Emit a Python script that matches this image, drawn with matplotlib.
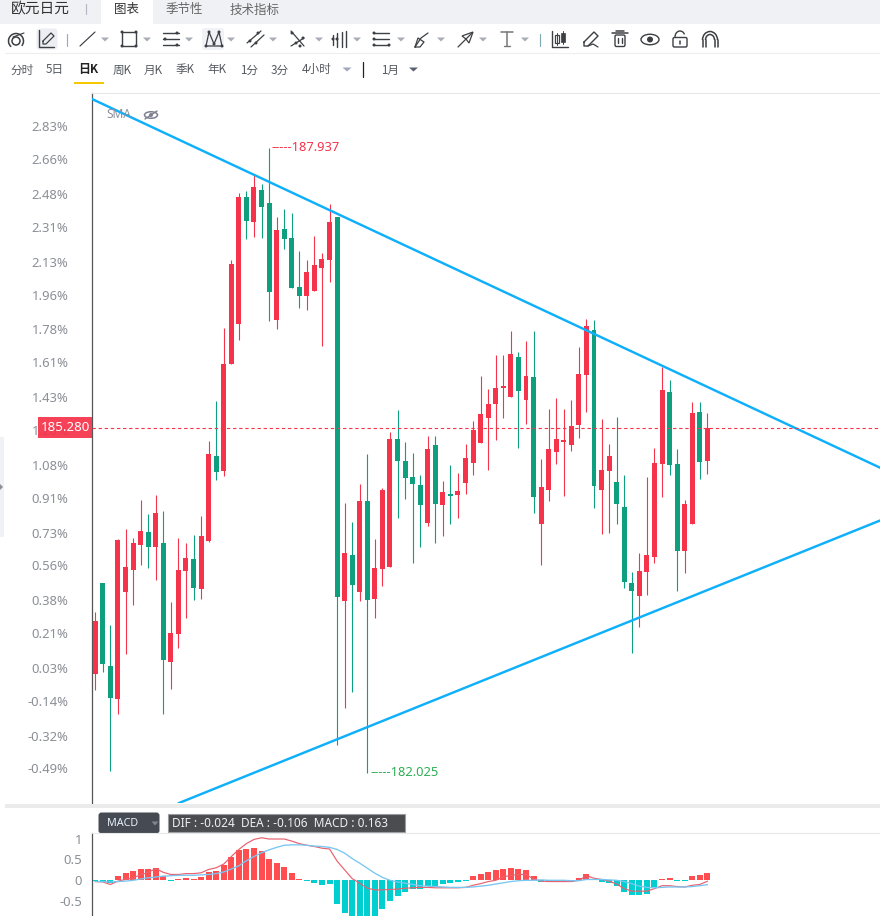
import numpy as np
import matplotlib
matplotlib.use("Agg")
import matplotlib.pyplot as plt
from matplotlib.patches import Rectangle, FancyBboxPatch, Circle, Polygon, Ellipse, Arc

plt.rcParams['font.family'] = ['Noto Sans', 'Noto Sans CJK SC', 'DejaVu Sans']

# Daily EUR/JPY candles
opens = [182.960,183.818,183.033,182.723,183.735,183.944,184.180,184.300,184.161,184.196,183.073,183.338,183.934,184.045,183.764,184.218,185.019,184.880,185.892,186.271,187.469,187.236,187.536,187.413,186.309,187.167,187.082,186.618,186.536,186.583,186.801,186.876,187.280,183.650,184.083,183.735,184.594,183.669,183.953,183.972,185.180,184.972,184.821,184.745,184.388,185.123,184.559,184.660,184.653,184.767,184.956,185.145,185.382,185.514,185.665,185.580,185.956,185.552,185.767,184.379,184.700,185.060,185.155,185.126,185.315,185.788,186.211,184.700,184.880,184.773,184.537,183.818,183.698,183.925,184.067,184.946,185.625,184.944,184.123,184.379,185.435,184.975]
highs = [183.543,183.818,183.421,184.234,184.329,184.244,184.603,184.471,184.650,184.499,183.638,184.244,184.196,184.272,184.452,185.161,185.540,186.230,186.873,187.507,187.526,187.677,187.592,187.937,187.280,187.356,187.318,186.959,186.873,187.100,186.940,187.403,187.280,184.575,184.395,184.754,185.038,184.234,184.717,185.246,185.454,185.152,185.048,184.839,185.208,185.208,184.783,184.934,184.858,185.133,185.350,185.776,185.653,185.975,185.975,186.202,186.003,186.107,186.202,184.991,185.464,185.568,185.464,185.549,186.050,186.315,186.306,185.369,185.133,185.388,184.839,183.922,184.102,184.821,185.095,185.861,185.738,185.085,184.603,185.530,185.530,185.426]
lows = [182.809,182.979,182.042,182.581,183.149,183.613,183.991,183.963,183.849,182.581,182.818,183.206,183.490,183.660,183.669,184.208,184.795,184.833,185.892,186.119,187.075,187.094,187.084,186.299,186.223,186.980,186.611,186.422,186.403,186.583,186.063,186.668,182.288,182.638,182.790,183.650,182.025,183.490,183.792,183.972,184.436,184.615,184.010,184.161,184.360,184.199,184.265,184.379,184.436,184.663,184.842,185.145,184.890,185.173,185.382,185.580,185.098,185.325,184.483,183.991,184.596,184.946,184.644,185.069,185.192,185.438,184.530,184.284,184.294,184.379,183.773,183.158,183.404,183.707,184.010,184.634,184.842,183.745,183.915,184.379,184.804,184.852]
closes = [183.458,183.054,182.733,184.225,183.969,184.196,184.310,184.161,184.480,183.092,183.345,183.941,184.054,183.773,184.262,185.038,184.871,185.890,186.836,187.469,187.245,187.564,187.378,186.573,187.157,187.075,186.611,186.536,186.760,186.826,186.883,187.233,183.688,184.102,183.802,184.594,183.660,183.960,184.698,185.180,184.975,184.814,184.757,184.559,185.085,184.568,184.679,184.644,184.688,185.000,185.265,185.417,185.511,185.663,185.681,185.984,185.637,185.776,184.634,184.726,185.085,185.180,185.171,185.303,185.795,186.249,184.738,184.887,185.019,184.568,183.830,183.745,183.931,184.083,184.953,185.644,184.937,184.123,184.565,185.426,184.965,185.280]

# Hand-drawn triangle boundaries as (bar index, price) endpoints
upper_trend_x = [-0.437, 103.85]
upper_trend_y = [188.396, 184.909]
lower_trend_x = [11.08, 103.85]
lower_trend_y = [181.737, 184.409]

# Percentage scale shown beside the price axis
pct_base = 182.96
pct_labels = [2.83,2.66,2.48,2.31,2.13,1.96,1.78,1.61,1.43,1.26,1.08,0.91,0.73,0.56,0.38,0.21,0.03,-0.14,-0.32,-0.49]

# MACD study
macd_hist = [-0.02,-0.03,-0.07,0.10,0.18,0.22,0.27,0.27,0.30,0.11,-0.01,0.02,0.05,0.03,0.08,0.20,0.22,0.37,0.56,0.73,0.75,0.78,0.70,0.51,0.42,0.32,0.18,0.02,-0.02,-0.07,-0.11,-0.10,-0.57,-0.79,-0.92,-0.95,-0.92,-0.90,-0.70,-0.50,-0.38,-0.27,-0.22,-0.22,-0.13,-0.13,-0.10,-0.06,-0.03,-0.01,0.10,0.15,0.20,0.25,0.27,0.30,0.27,0.25,0.10,-0.04,-0.05,-0.05,-0.05,-0.03,0.06,0.15,0.04,-0.05,-0.07,-0.14,-0.27,-0.35,-0.36,-0.32,-0.17,0.02,0.05,-0.02,-0.02,0.10,0.13,0.163]
dif = [-0.03,-0.04,-0.10,-0.02,0.02,0.06,0.13,0.19,0.28,0.19,0.14,0.14,0.16,0.16,0.18,0.26,0.30,0.39,0.57,0.74,0.88,0.98,1.02,0.99,0.99,0.99,0.94,0.88,0.84,0.81,0.77,0.75,0.46,0.25,0.04,-0.07,-0.19,-0.23,-0.23,-0.22,-0.21,-0.19,-0.18,-0.17,-0.17,-0.18,-0.18,-0.18,-0.18,-0.17,-0.12,-0.08,-0.03,0.00,0.08,0.12,0.14,0.14,0.03,-0.02,-0.03,-0.03,-0.03,-0.03,0.00,0.11,0.05,0.02,-0.02,-0.09,-0.20,-0.26,-0.26,-0.26,-0.20,-0.13,-0.13,-0.15,-0.16,-0.12,-0.10,-0.024]
dea = [-0.03,-0.03,-0.04,-0.03,-0.02,0.00,0.03,0.06,0.08,0.10,0.11,0.12,0.12,0.12,0.13,0.14,0.16,0.20,0.27,0.35,0.47,0.57,0.66,0.73,0.79,0.84,0.85,0.85,0.84,0.82,0.81,0.79,0.74,0.65,0.52,0.41,0.29,0.17,0.07,0.00,-0.04,-0.07,-0.10,-0.13,-0.14,-0.15,-0.16,-0.17,-0.17,-0.17,-0.16,-0.14,-0.12,-0.09,-0.06,-0.03,-0.01,0.00,0.00,0.01,0.00,0.00,0.00,-0.01,-0.01,0.02,0.02,0.02,0.01,0.00,-0.03,-0.08,-0.14,-0.17,-0.18,-0.17,-0.16,-0.16,-0.16,-0.15,-0.13,-0.106]
macd_ticks = [1, 0.5, 0, -0.5]
macd_tick_labels = ['1', '0.5', '0', '-0.5']

RED = '#f5334a'
GREEN = '#0e9f7e'
BLUE = '#0fb0fb'
TICK = '#8b8f96'
W, H = 880, 916


def px_axes(l, t, r, b):
    return [l / W, (H - b) / H, (r - l) / W, (b - t) / H]


fig = plt.figure(figsize=(W / 100, H / 100), dpi=100, facecolor='white')

# Candlestick panel
ax = fig.add_axes(px_axes(92, 93, 880, 803), facecolor='none')
ax.set_xlim(-0.437, 103.85)
ax.set_ylim(181.737, 188.453)
x = np.arange(len(opens))
o, hi, lo, c = map(np.array, (opens, highs, lows, closes))
up = c >= o
colours = np.where(up, RED, GREEN)
ax.vlines(x, lo, hi, colors=colours, lw=0.8, zorder=2)
ax.bar(x, np.maximum(np.abs(c - o), 0.012), bottom=np.minimum(o, c), width=0.66,
       color=colours, linewidth=0, zorder=3)
ax.plot(upper_trend_x, upper_trend_y, color=BLUE, lw=1.75, zorder=4)
ax.plot(lower_trend_x, lower_trend_y, color=BLUE, lw=1.75, zorder=4)
ax.axhline(c[-1], color=RED, lw=0.8, ls=(0, (3, 2.5)), zorder=5)

i_hi, i_lo = int(np.argmax(hi)), int(np.argmin(lo))
ax.annotate(f'-----{hi[i_hi]:.3f}', (i_hi, hi[i_hi]), xytext=(2, 0), textcoords='offset points',
            va='center', ha='left', color=RED, fontsize=9.3)
ax.annotate(f'-----{lo[i_lo]:.3f}', (i_lo, lo[i_lo]), xytext=(2, 0), textcoords='offset points',
            va='center', ha='left', color='#2eae55', fontsize=9.3)

ax.set_xticks([])
ax.set_yticks([pct_base * (1 + p / 100) for p in pct_labels])
ax.set_yticklabels([f'{p:.2f}%' for p in pct_labels], color=TICK, fontsize=9.4)
ax.tick_params(axis='y', length=0, pad=17)
for side in ('top', 'right', 'bottom'):
    ax.spines[side].set_visible(False)
ax.spines['left'].set_color('#555555')
ax.spines['left'].set_linewidth(0.9)

# MACD panel
ax2 = fig.add_axes(px_axes(92, 833, 880, 916), facecolor='none')
ax2.set_xlim(-0.437, 103.85)
ax2.set_ylim(-0.856, 1.134)
hist = np.array(macd_hist)
ax2.bar(x, hist, width=0.8, color=np.where(hist >= 0, '#ff4d50', '#00cfd2'), linewidth=0, zorder=2)
ax2.plot(x, dif, color='#e9606e', lw=0.85, zorder=3)
ax2.plot(x, dea, color='#78c6f2', lw=0.95, zorder=3)
ax2.set_xticks([])
ax2.set_yticks(macd_ticks)
ax2.set_yticklabels(macd_tick_labels, color=TICK, fontsize=9.4)
ax2.tick_params(axis='y', length=0, pad=7)
for side in ('top', 'right', 'bottom'):
    ax2.spines[side].set_visible(False)
ax2.spines['left'].set_color('#555555')
ax2.spines['left'].set_linewidth(0.9)

# Application chrome, laid out in screen pixels
ui = fig.add_axes([0, 0, 1, 1], facecolor='none', zorder=10)
ui.set_xlim(0, W)
ui.set_ylim(H, 0)
ui.axis('off')
CJK = ['Noto Sans CJK SC', 'DejaVu Sans']
INK = '#3c3f44'
GREY = '#a9adb8'


def rect(l, t, r, b, fc, **kw):
    ui.add_patch(Rectangle((l, t), r - l, b - t, fc=fc, ec=kw.pop('ec', 'none'), lw=kw.pop('lw', 0), **kw))


def line(xs, ys, color=INK, lw=0.85, **kw):
    ui.plot(xs, ys, color=color, lw=lw, solid_capstyle='round', **kw)


def dot(cx, cy, r=1.5, color=INK):
    ui.add_patch(Circle((cx, cy), r, fc=color, ec='none'))


def caret(cx, cy=39, color=GREY, w=4):
    ui.add_patch(Polygon([(cx - w, cy - 1.5), (cx + w, cy - 1.5), (cx, cy + 2.5)], fc=color, ec='none'))


# Tab strip
rect(0, 0, W, 24, '#f0f1f5')
rect(101, 0, 153, 24, 'white')
ui.text(11, 9.5, '欧元日元', family=CJK, fontsize=10.6, color='#333333', va='center', ha='left')
line([86, 86], [4, 14], color='#b5b9c4')
ui.text(126.5, 10, '图表', family=CJK, fontsize=9, color='#333333', va='center', ha='center')
ui.text(184, 10, '季节性', family=CJK, fontsize=9, color='#666666', va='center', ha='center')
ui.text(255, 10, '技术指标', family=CJK, fontsize=9, color='#666666', va='center', ha='center')

# Row separators
line([5, W], [53, 53], color='#eeeeee', lw=0.8)
line([92, W], [92.5, 92.5], color='#e8e8e8', lw=0.8)

# Drawing tools
ui.add_patch(Arc((16, 41), 15, 15, theta1=130, theta2=400, ec=INK, lw=1.1))
ui.add_patch(Circle((16, 41), 4, fc='none', ec=INK, lw=1.1))
line([13, 24], [37, 33])
ui.add_patch(FancyBboxPatch((38, 30), 18, 18, boxstyle='round,pad=1.5,rounding_size=3', fc='#eceef3', ec='none'))
line([39, 39, 54], [30, 47, 47], lw=1)
line([43, 51, 54, 46, 43, 43], [41, 33, 36, 44, 44, 41], lw=0.9)
line([66.5, 66.5], [34, 46], color='#b79ac8')
line([80, 95], [46, 32])
caret(105)
ui.add_patch(Rectangle((122, 32), 14, 14, fc='none', ec=INK, lw=1))
for px_, py_ in [(122, 32), (136, 32), (122, 46), (136, 46)]:
    dot(px_, py_)
caret(147)
for yy in (33, 39, 45):
    line([163, 179], [yy, yy], lw=1)
dot(177, 33)
dot(165, 39)
dot(177, 45)
caret(189)
ui.add_patch(FancyBboxPatch((204, 30), 18, 18, boxstyle='round,pad=2,rounding_size=3', fc='#f1f2f5', ec='none'))
line([206, 209, 214, 219, 222, 206], [46, 32, 44, 32, 46, 46], lw=0.9)
for px_, py_ in [(206, 46), (209, 32), (214, 44), (219, 32), (222, 46)]:
    dot(px_, py_)
caret(231)
line([247, 261], [43, 31], lw=0.9)
line([251, 264], [47, 35], lw=0.9)
dot(250, 41)
dot(258, 33)
dot(256, 43)
caret(273)
line([291, 304], [31, 46], lw=0.9)
line([291, 304], [46, 38], lw=0.9)
for px_, py_ in [(292, 33), (296, 43), (300, 46), (303, 38)]:
    dot(px_, py_)
caret(319)
for xx, t_, b_ in [(333, 35, 45), (337, 33, 47), (342, 32, 47), (346, 31, 47)]:
    line([xx, xx], [t_, b_], lw=1)
dot(337, 39)
dot(333, 39)
caret(357)
for yy in (33, 39, 45):
    line([374, 389], [yy, yy], lw=1)
dot(374, 33)
dot(374, 39)
dot(374, 45)
dot(389, 45)
caret(401)
line([415, 421, 428], [47, 38, 33], lw=0.9)
line([415, 420, 424, 418, 415], [47, 47, 42, 38, 47], lw=0.9)
caret(441)
line([458, 472], [47, 33], lw=0.9)
ui.add_patch(Polygon([(473, 32), (462, 36), (466, 39), (469, 43)], fc='white', ec=INK, lw=0.9))
caret(483)
line([501, 513], [32, 32], color='#777777', lw=1.1)
line([507, 507], [32, 46], color='#777777', lw=1.1)
line([504, 510], [46, 46], color='#777777', lw=1)
caret(525)
line([539.5, 539.5], [34, 46], color='#7fa9b5')

# Right-hand action icons
line([552, 552, 568], [31, 47, 47], lw=1)
ui.add_patch(Rectangle((555, 35), 4, 8, fc='none', ec=INK, lw=0.9))
ui.add_patch(Rectangle((561, 33), 4, 9, fc=INK, ec=INK, lw=0.5))
line([557, 557], [33, 45], lw=0.7)
line([563, 563], [31, 44], lw=0.7)
line([584, 594, 598, 588, 584, 584], [42, 32, 36, 46, 46, 42], lw=1)
line([588, 593, 598], [46, 44, 47], lw=0.9)
line([612, 628], [33, 33], lw=1.1)
line([616, 624], [30.5, 30.5], lw=1.1)
ui.add_patch(FancyBboxPatch((615, 35), 10, 11.5, boxstyle='round,pad=0,rounding_size=1.5', fc='none', ec=INK, lw=1))
line([618, 618], [38, 43], lw=1)
line([622, 622], [38, 43], lw=1)
ui.add_patch(Ellipse((650, 39.5), 18, 10.5, fc='none', ec=INK, lw=1))
dot(650, 39.5, 3)
ui.add_patch(FancyBboxPatch((673, 37.5), 14, 9.5, boxstyle='round,pad=0,rounding_size=1.5', fc='none', ec=INK, lw=1))
ui.add_patch(Arc((680, 37), 10, 12, theta1=180, theta2=330, ec=INK, lw=1))
line([680, 680], [41, 44], lw=1.1)
ui.add_patch(Arc((710, 40), 15, 17, theta1=180, theta2=360, ec=INK, lw=1.1))
ui.add_patch(Arc((710, 40), 9, 11, theta1=180, theta2=360, ec=INK, lw=1.1))
line([702.5, 702.5], [40, 47], lw=1.1)
line([717.5, 717.5], [40, 47], lw=1.1)
line([705.5, 705.5], [40, 47], lw=1.1)
line([714.5, 714.5], [40, 47], lw=1.1)

# Period selector
periods = [('分时', 22.5), ('5日', 55), ('周K', 122), ('月K', 153), ('季K', 185), ('年K', 217), ('1分', 249), ('3分', 280), ('4小时', 317), ('1月', 390)]
for label, cx in periods:
    ui.text(cx, 70, label, family=CJK, fontsize=8.4, color='#555a60', va='center', ha='center')
ui.text(88.5, 70, '日K', family=CJK, fontsize=8.6, color='#222222', weight='bold', va='center', ha='center')
rect(74, 82, 104, 84, '#f5c800')
caret(347, 69, color='#a3a8bd', w=4.5)
caret(413.5, 69, color='#596073', w=4.5)
line([362.5, 362.5], [62, 77], color='#222222', lw=0.9)

# Study label and its visibility toggle
ui.text(106, 114, 'SMA', fontsize=8.6, color='#8b8f9a', va='center', ha='left', zorder=1)
ui.add_patch(Ellipse((151, 115), 13, 6.5, fc='none', ec='#7d8090', lw=1.1))
dot(151, 115, 2, '#7d8090')
line([145, 157], [119, 111], color='#7d8090', lw=1)

# Left edge collapse handle
rect(0, 437, 4, 537, '#f0f1f5')
ui.add_patch(Polygon([(0, 484), (3, 487), (0, 490)], fc='#8b8f96', ec='none'))

# Last-price tag
rect(38, 417, 92, 438, RED, alpha=0.93)
ui.text(65, 427.5, f'{c[-1]:.3f}', color='white', fontsize=9.6, va='center', ha='center')

# Divider and MACD header
rect(5, 804, W, 808, '#ebebeb')
line([92, W], [832.5, 832.5], color='#e8e8e8', lw=0.8)
ui.add_patch(FancyBboxPatch((100, 814), 58, 18, boxstyle='round,pad=1.5,rounding_size=3', fc='#454a53', ec='none'))
ui.text(123, 824, 'MACD', color='#e8f0fa', fontsize=7.8, va='center', ha='center')
caret(155, 823, color='#80858f', w=3.5)
rect(168, 814, 405, 832, '#4a4c50', ec='#9a9da2', lw=0.8)
ui.text(172, 823.5, f'DIF : {dif[-1]:.3f}  DEA : {dea[-1]:.3f}  MACD : {macd_hist[-1]:.3f}',
        color='#eef0f2', fontsize=8.5, va='center', ha='left')

fig.savefig('out.png', dpi=100, facecolor='white')
